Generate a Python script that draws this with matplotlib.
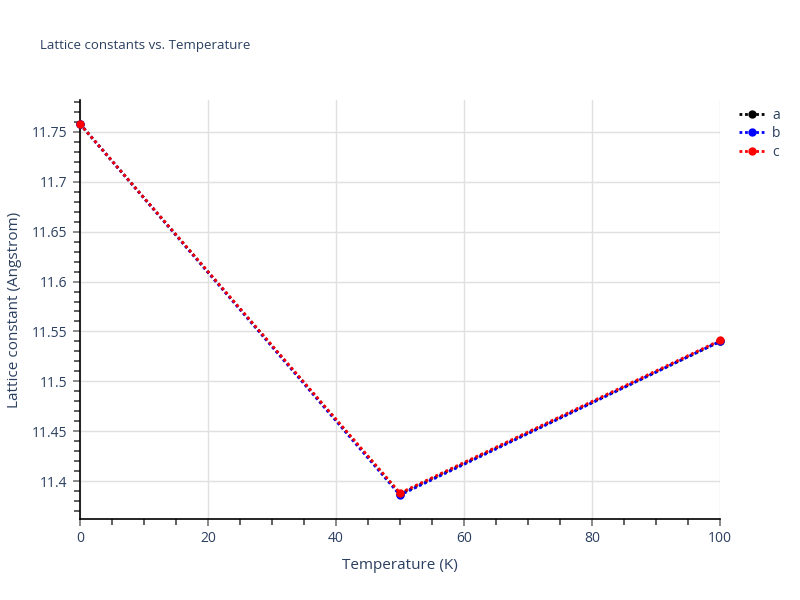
import matplotlib
matplotlib.use("Agg")
import matplotlib.pyplot as plt
from matplotlib.ticker import MultipleLocator, FuncFormatter
from matplotlib.lines import Line2D

temperature = [0, 50, 100]
a_vals = [11.758, 11.387, 11.540]
b_vals = [11.758, 11.386, 11.540]
c_vals = [11.758, 11.388, 11.541]
series_names = ["a", "b", "c"]
colors = ["black", "blue", "red"]

plt.rcParams['font.family'] = ['Open Sans', 'DejaVu Sans']
text_color = '#2a3f5f'
dot = (0, (1.0, 1.0))

fig = plt.figure(figsize=(8, 6), dpi=100)
ax = fig.add_axes([80/800, 1-519/600, 640/800, 419/600])

for vals, col, name in zip([a_vals, b_vals, c_vals], colors, series_names):
    ax.plot(temperature, vals, linestyle=dot, color=col, lw=2,
            marker='o', markersize=5, label=name, clip_on=False, zorder=3)

ax.set_xlim(0, 100)
ax.set_ylim(11.362, 11.782)
ax.xaxis.set_major_locator(MultipleLocator(20))
ax.xaxis.set_minor_locator(MultipleLocator(5))
ax.yaxis.set_major_locator(MultipleLocator(0.05))
ax.yaxis.set_minor_locator(MultipleLocator(0.01))

def yfmt(v, pos):
    return f"{v:.2f}".rstrip('0').rstrip('.')
ax.yaxis.set_major_formatter(FuncFormatter(yfmt))

ax.grid(True, which='major', color='#e0e0e0', lw=1)
ax.set_axisbelow(True)
for s in ['top', 'right']:
    ax.spines[s].set_visible(False)
for s in ['left', 'bottom']:
    ax.spines[s].set_color('black')
    ax.spines[s].set_linewidth(1.2)

ax.tick_params(axis='both', which='major', direction='out', length=5, width=1.2,
               color='#777', labelcolor=text_color, labelsize=10, pad=4)
ax.tick_params(axis='both', which='minor', direction='out', length=4, width=1.2, color='#444')

ax.set_xlabel('Temperature (K)', color=text_color, fontsize=11, labelpad=8)
ax.set_ylabel('Lattice constant (Angstrom)', color=text_color, fontsize=11, labelpad=7)

fig.text(40/800, 1-45/600, 'Lattice constants vs. Temperature', color=text_color,
         fontsize=9.5, va='center', ha='left')

handles = [Line2D([0], [0], color=c, linestyle=dot, lw=2, marker='o', markersize=5)
           for c in colors]
leg = fig.legend(handles, series_names, loc='upper left', bbox_to_anchor=(733/800, 1-102/600),
                 frameon=False, fontsize=10, handlelength=2.0, labelspacing=0.25,
                 handletextpad=0.4, borderaxespad=0)
for t in leg.get_texts():
    t.set_color(text_color)

fig.savefig('out.png', dpi=100)
